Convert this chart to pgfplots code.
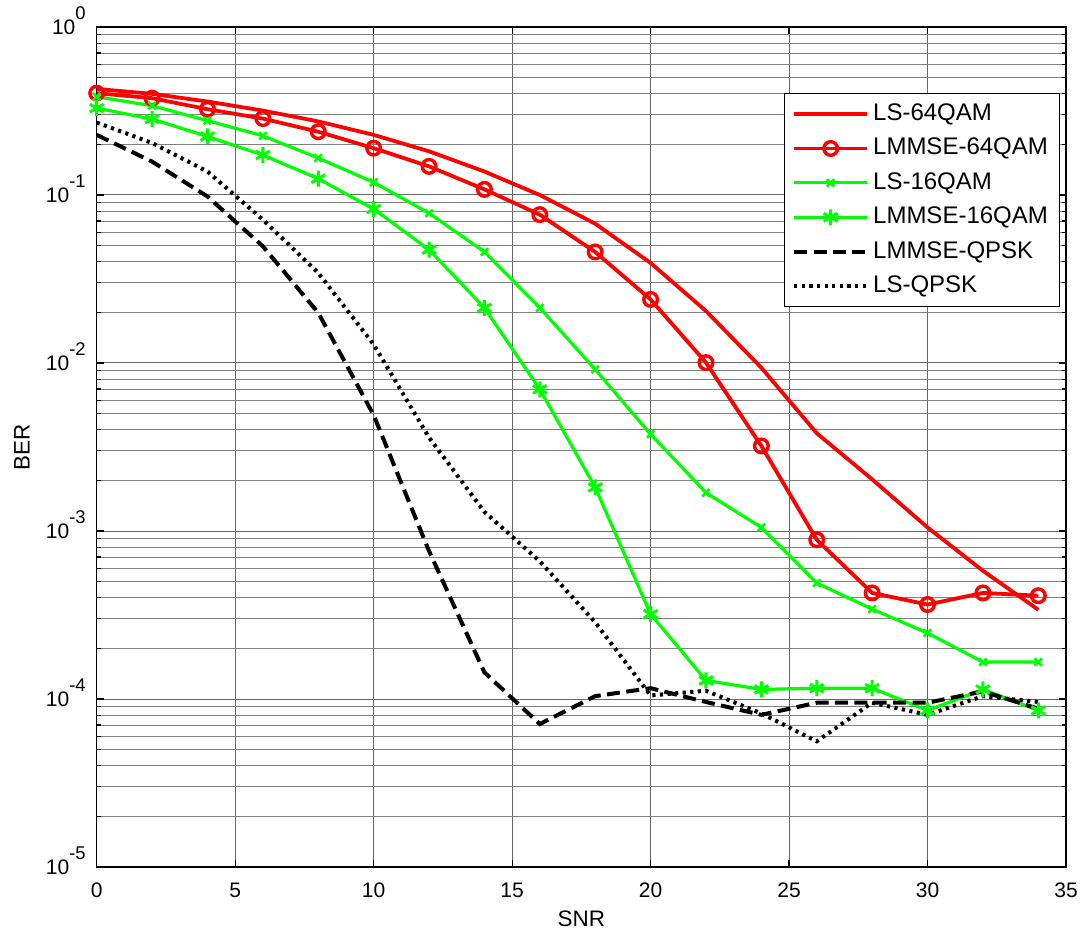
\documentclass[border=0pt]{standalone}
\usepackage{fontspec}
\setmainfont{Liberation Sans}
\usepackage{pgfplots}
\pgfplotsset{compat=1.18}
\newcommand{\sps}[1]{10\raisebox{0.72em}[0pt][0pt]{\fontsize{9.2}{9.5}\selectfont #1}}
\begin{document}
\begin{tikzpicture}
\useasboundingbox (-48.35pt,-31.5pt) rectangle (491.65pt,433.5pt);
\begin{semilogyaxis}[
  at={(0,0)}, anchor=south west,
  width=484.65pt, height=420pt, scale only axis,
  xmin=0, xmax=35, ymin=1e-5, ymax=1,
  xtick={0,5,10,15,20,25,30,35},
  xticklabels={0,5,10,15,20,25,30,35},
  ytick={1e-5,1e-4,1e-3,1e-2,1e-1,1},
  yticklabels={\sps{-5},\sps{-4},\sps{-3},\sps{-2},\sps{-1},\sps{0}},
  minor ytick={2e-5,3e-5,4e-5,5e-5,6e-5,7e-5,8e-5,9e-5,
               2e-4,3e-4,4e-4,5e-4,6e-4,7e-4,8e-4,9e-4,
               2e-3,3e-3,4e-3,5e-3,6e-3,7e-3,8e-3,9e-3,
               2e-2,3e-2,4e-2,5e-2,6e-2,7e-2,8e-2,9e-2,
               2e-1,3e-1,4e-1,5e-1,6e-1,7e-1,8e-1,9e-1},
  xmajorgrids=true, ymajorgrids=true, yminorgrids=true,
  major grid style={line width=0.5pt, black!60},
  minor grid style={line width=0.5pt, black!50},
  tick align=inside,
  major tick length=3.5pt, minor tick length=2.2pt,
  every tick/.style={black, line width=0.6pt},
  axis line style={line width=0.7pt, black},
  tick label style={font=\fontsize{10.5}{12}\selectfont},
  xticklabel style={yshift=-4.5pt},
  yticklabel style={xshift=-2pt},
  xlabel={SNR}, ylabel={BER},
  label style={font=\fontsize{11.2}{13}\selectfont},
  xlabel style={at={(axis description cs:0.5,-0.062)}, anchor=center},
  ylabel style={at={(axis description cs:-0.0771,0.5)}, anchor=center},
  legend style={at={(0.9943,0.9218)}, anchor=north east,
    font=\fontsize{12}{14}\selectfont, draw=black, line width=0.6pt,
    inner xsep=4pt, inner ysep=3pt, row sep=2.4pt,
    nodes={inner sep=2pt, text height=8.6pt, text depth=2.2pt}},
  legend cell align=left,
  legend image code/.code={
    \draw[mark repeat=2, mark phase=2, #1] plot coordinates {(0pt,0pt) (18.25pt,0pt) (36.5pt,0pt)};
  },
]
\addplot[red, line width=1.9pt] coordinates {
 (0,0.428) (2,0.400) (4,0.360) (6,0.318) (8,0.274) (10,0.228) (12,0.182) (14,0.138)
 (16,0.100) (18,0.0675) (20,0.0394) (22,0.0204) (24,0.00937) (26,0.00382)
 (28,0.00203) (30,0.00105) (32,0.00058) (34,0.00034)};
\addlegendentry{LS-64QAM}
\addplot[red, line width=1.9pt, mark=o, mark size=3.4pt, mark options={solid, line width=1.7pt}] coordinates {
 (0,0.404) (2,0.377) (4,0.324) (6,0.285) (8,0.238) (10,0.190) (12,0.148) (14,0.108)
 (16,0.0764) (18,0.0458) (20,0.0239) (22,0.01005) (24,0.00321) (26,0.000887)
 (28,0.000428) (30,0.000365) (32,0.000428) (34,0.000412)};
\addlegendentry{LMMSE-64QAM}
\addplot[green, line width=1.6pt, mark=x, mark size=2.6pt, mark options={solid, line width=1.3pt}] coordinates {
 (0,0.385) (2,0.340) (4,0.277) (6,0.225) (8,0.166) (10,0.119) (12,0.078) (14,0.0459)
 (16,0.0213) (18,0.00916) (20,0.00377) (22,0.00169) (24,0.00105) (26,0.00049)
 (28,0.000343) (30,0.000247) (32,0.000166) (34,0.000166)};
\addlegendentry{LS-16QAM}
\addplot[green, line width=1.6pt, mark=asterisk, mark size=4pt, mark options={solid, line width=1.5pt}] coordinates {
 (0,0.329) (2,0.283) (4,0.223) (6,0.173) (8,0.125) (10,0.0826) (12,0.0473) (14,0.0213)
 (16,0.00697) (18,0.00182) (20,0.00032) (22,0.000129) (24,0.000114) (26,0.000116)
 (28,0.000116) (30,0.0000855) (32,0.000114) (34,0.0000855)};
\addlegendentry{LMMSE-16QAM}
\addplot[black, line width=2pt, dash pattern=on 6.5pt off 3.2pt] coordinates {
 (0,0.228) (2,0.158) (4,0.098) (6,0.0495) (8,0.0199) (10,0.0049) (12,0.00076) (14,0.000144)
 (16,0.000071) (18,0.000104) (20,0.000116) (22,0.000096) (24,0.0000805) (26,0.000095)
 (28,0.000095) (30,0.000095) (32,0.000111) (34,0.0000875)};
\addlegendentry{LMMSE-QPSK}
\addplot[black, line width=2pt, dash pattern=on 1.6pt off 2.2pt] coordinates {
 (0,0.270) (2,0.204) (4,0.138) (6,0.0713) (8,0.0344) (10,0.0129) (12,0.0036) (14,0.00130)
 (16,0.00066) (18,0.000286) (20,0.000105) (22,0.000112) (24,0.000082) (26,0.000056)
 (28,0.000095) (30,0.0000805) (32,0.000104) (34,0.000096)};
\addlegendentry{LS-QPSK}
\end{semilogyaxis}
\end{tikzpicture}
\end{document}
